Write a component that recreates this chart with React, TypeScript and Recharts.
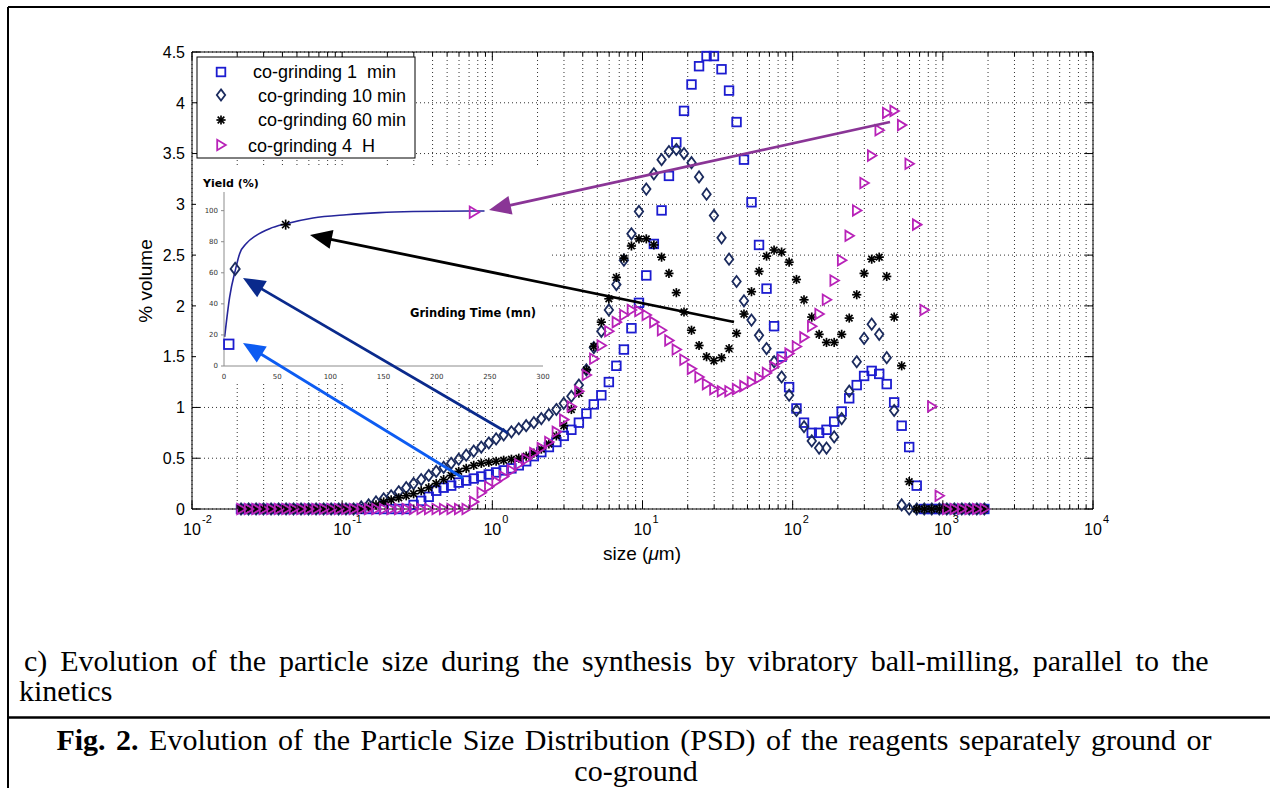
import React from "react";
import {
  ScatterChart,
  Scatter,
  XAxis,
  YAxis,
  CartesianGrid,
  ReferenceArea,
  ComposedChart,
  Line,
} from "recharts";

// size classes (µm), geometric centres of the laser-diffraction bins
const sizes = [
  0.0212, 0.0238, 0.0267, 0.0299, 0.0336, 0.0377, 0.0423, 0.0474, 0.0532, 0.0597,
  0.067, 0.0752, 0.0844, 0.0947, 0.106, 0.119, 0.134, 0.15, 0.168, 0.189,
  0.212, 0.238, 0.267, 0.299, 0.336, 0.377, 0.423, 0.474, 0.532, 0.597,
  0.67, 0.752, 0.844, 0.947, 1.06, 1.19, 1.34, 1.5, 1.68, 1.89,
  2.12, 2.38, 2.67, 2.99, 3.36, 3.77, 4.23, 4.74, 5.32, 5.97,
  6.7, 7.52, 8.44, 9.47, 10.6, 11.9, 13.4, 15.0, 16.8, 18.9,
  21.2, 23.8, 26.7, 29.9, 33.6, 37.7, 42.3, 47.4, 53.2, 59.7,
  67.0, 75.2, 84.4, 94.7, 106, 119, 134, 150, 168, 189,
  212, 238, 267, 299, 336, 377, 423, 474, 532, 597,
  670, 752, 844, 947, 1062, 1192, 1337, 1500, 1683, 1889,
];

// % volume per size class
const coGrind1min = [
  0, 0, 0, 0, 0, 0, 0, 0, 0, 0,
  0, 0, 0, 0, 0, 0, 0, 0, 0, 0,
  0, 0, 0, 0.04, 0.08, 0.12, 0.18, 0.21, 0.23, 0.26,
  0.28, 0.3, 0.32, 0.34, 0.36, 0.38, 0.4, 0.43, 0.47, 0.52,
  0.56, 0.61, 0.66, 0.72, 0.78, 0.85, 0.94, 1.03, 1.12, 1.25,
  1.41, 1.57, 1.78, 2.03, 2.3, 2.61, 2.94, 3.28, 3.61, 3.92,
  4.18, 4.36, 4.46, 4.46, 4.33, 4.12, 3.81, 3.44, 3.02, 2.6,
  2.17, 1.8, 1.5, 1.2, 0.99, 0.85, 0.75, 0.75, 0.78, 0.86,
  0.96, 1.09, 1.22, 1.31, 1.36, 1.33, 1.23, 1.05, 0.82, 0.61,
  0.23, 0, 0, 0, 0, 0, 0, 0, 0, 0,
];

const coGrind10min = [
  0, 0, 0, 0, 0, 0, 0, 0, 0, 0,
  0, 0, 0, 0, 0, 0, 0.02, 0.04, 0.07, 0.1,
  0.13, 0.17, 0.21, 0.25, 0.29, 0.33, 0.37, 0.41, 0.45, 0.49,
  0.53, 0.57, 0.61, 0.65, 0.69, 0.73, 0.76, 0.79, 0.82, 0.85,
  0.89, 0.93, 0.98, 1.04, 1.11, 1.22, 1.37, 1.59, 1.75, 1.96,
  2.21, 2.45, 2.71, 2.93, 3.15, 3.3, 3.44, 3.52, 3.54, 3.5,
  3.41, 3.27, 3.1, 2.89, 2.67, 2.46, 2.24, 2.05, 1.86, 1.71,
  1.58, 1.45, 1.3, 1.12, 0.97, 0.81, 0.67, 0.6, 0.6, 0.71,
  0.89, 1.16, 1.45, 1.68, 1.82, 1.72, 1.49, 0.97, 0.04, 0,
  0, 0, 0, 0, 0, 0, 0, 0, 0, 0,
];

const coGrind60min = [
  0, 0, 0, 0, 0, 0, 0, 0, 0, 0,
  0, 0, 0, 0, 0, 0, 0, 0.02, 0.04, 0.07,
  0.09, 0.11, 0.13, 0.15, 0.18, 0.21, 0.25, 0.29, 0.33, 0.37,
  0.4, 0.43, 0.45, 0.46, 0.47, 0.48, 0.49, 0.5, 0.52, 0.55,
  0.59, 0.64, 0.72, 0.82, 0.98, 1.14, 1.37, 1.6, 1.84, 2.07,
  2.28, 2.47, 2.59, 2.66, 2.66, 2.6, 2.48, 2.32, 2.13, 1.94,
  1.76, 1.61, 1.5, 1.46, 1.49, 1.58, 1.73, 1.92, 2.14, 2.34,
  2.49, 2.55, 2.53, 2.43, 2.26, 2.06, 1.89, 1.72, 1.64, 1.64,
  1.72, 1.88, 2.11, 2.32, 2.46, 2.48, 2.29, 1.89, 1.41, 0.27,
  0, 0, 0, 0, 0, 0, 0, 0, 0, 0,
];

const coGrind4h = [
  0, 0, 0, 0, 0, 0, 0, 0, 0, 0,
  0, 0, 0, 0, 0, 0, 0, 0, 0, 0,
  0, 0, 0, 0, 0, 0, 0, 0, 0, 0,
  0, 0.07, 0.16, 0.22, 0.27, 0.32, 0.38, 0.44, 0.49, 0.55,
  0.6, 0.66, 0.76, 0.88, 1.01, 1.16, 1.32, 1.48, 1.61, 1.75,
  1.84, 1.91, 1.96, 1.95, 1.91, 1.84, 1.76, 1.66, 1.57, 1.47,
  1.38, 1.3, 1.23, 1.18, 1.16, 1.16, 1.18, 1.21, 1.25, 1.29,
  1.34, 1.4, 1.47, 1.53, 1.6, 1.69, 1.8, 1.92, 2.06, 2.25,
  2.45, 2.69, 2.94, 3.21, 3.48, 3.73, 3.9, 3.92, 3.78, 3.4,
  2.8, 1.96, 1.01, 0.13, 0, 0, 0, 0, 0, 0,
];

const xMajor = [0.01, 0.1, 1, 10, 100, 1000, 10000];
const xMinorSteps = [2, 3, 4, 5, 6, 7, 8, 9];
const yTicks = [0, 0.5, 1, 1.5, 2, 2.5, 3, 3.5, 4, 4.5];

const legendLabels = [
  "co-grinding 1  min",
  "co-grinding 10 min",
  "co-grinding 60 min",
  "co-grinding 4  H",
];

// inset: reaction yield vs grinding time
const yieldTime = [0.6, 5.3, 11, 14.7, 21, 30.4, 42.9, 58.6, 83.7, 115, 146, 178, 231, 245];
const yieldPct = [18.7, 44.4, 62.7, 72.3, 78.8, 84.1, 88.4, 91.6, 95.3, 97.4, 98.7, 99.4, 99.8, 99.8];
const sampleTime = [4.5, 10.5, 58, 235];
const sampleYield = [14, 62.5, 91, 99];
const insetXTicks = [0, 50, 100, 150, 200, 250, 300];
const insetYTicks = [0, 20, 40, 60, 80, 100];

const BLUE = "#1c1cd0";
const NAVY = "#1b2b5e";
const MAGENTA = "#b822b8";
const SANS = "'Liberation Sans', Arial, sans-serif";
const SERIF = "'Liberation Serif', 'Times New Roman', serif";

const PLOT_TOP = 52;
const PLOT_RIGHT = 1093;

const kinds = ["square", "diamond", "star", "triangle"];
const seriesValues = [coGrind1min, coGrind10min, coGrind60min, coGrind4h];

const xTicks: number[] = [];
xMajor.forEach((d, i) => {
  xTicks.push(d);
  if (i < xMajor.length - 1) xMinorSteps.forEach((m) => xTicks.push(+(d * m).toPrecision(3)));
});

function Marker({ kind, cx, cy, k = 1 }: { kind: string; cx: number; cy: number; k?: number }) {
  if (kind === "square") {
    const h = 4.3 * k;
    return <rect x={cx - h} y={cy - h} width={2 * h} height={2 * h} fill="none" stroke={BLUE} strokeWidth={1.8} />;
  }
  if (kind === "diamond") {
    const w = 4.2 * k, h = 5.6 * k;
    return (
      <polygon
        points={`${cx},${cy - h} ${cx + w},${cy} ${cx},${cy + h} ${cx - w},${cy}`}
        fill="none"
        stroke={NAVY}
        strokeWidth={1.8}
      />
    );
  }
  if (kind === "star") {
    const r = 4.6 * k, d = 3.3 * k;
    return (
      <g stroke="#000" strokeWidth={1.7}>
        <line x1={cx - r} y1={cy} x2={cx + r} y2={cy} />
        <line x1={cx} y1={cy - r} x2={cx} y2={cy + r} />
        <line x1={cx - d} y1={cy - d} x2={cx + d} y2={cy + d} />
        <line x1={cx - d} y1={cy + d} x2={cx + d} y2={cy - d} />
      </g>
    );
  }
  return (
    <polygon
      points={`${cx + 4.8 * k},${cy} ${cx - 3.8 * k},${cy - 5.2 * k} ${cx - 3.8 * k},${cy + 5.2 * k}`}
      fill="none"
      stroke={MAGENTA}
      strokeWidth={1.8}
    />
  );
}

const renderXTick = (p: any) => {
  const { x, y, payload } = p;
  const lg = Math.log10(payload.value);
  const major = Math.abs(lg - Math.round(lg)) < 1e-6;
  const len = major ? 8 : 4;
  return (
    <g>
      <line x1={x} y1={y} x2={x} y2={y - len} stroke="#000" />
      <line x1={x} y1={PLOT_TOP} x2={x} y2={PLOT_TOP + len} stroke="#000" />
      {major && (
        <text fontFamily={SANS} fill="#000">
          <tspan x={x} y={y + 26} fontSize={16} textAnchor="middle">10</tspan>
          <tspan x={x + 10} y={y + 14} fontSize={11}>{Math.round(lg)}</tspan>
        </text>
      )}
    </g>
  );
};

const renderYTick = (p: any) => {
  const { x, y, payload } = p;
  return (
    <g>
      <line x1={x} y1={y} x2={x + 8} y2={y} stroke="#000" />
      <line x1={PLOT_RIGHT} y1={y} x2={PLOT_RIGHT - 8} y2={y} stroke="#000" />
      <text x={x - 7} y={y} dy="0.36em" textAnchor="end" fontSize={16} fontFamily={SANS} fill="#000">
        {String(payload.value)}
      </text>
    </g>
  );
};

const arrows = [
  { x1: 890, y1: 122, x2: 489, y2: 210, color: "#8a3596" },
  { x1: 734, y1: 322, x2: 310, y2: 235, color: "#000000" },
  { x1: 508, y1: 433, x2: 243, y2: 278, color: "#0a2a8c" },
  { x1: 463, y1: 478, x2: 243, y2: 343, color: "#0d5cf2" },
];

function Arrow({ x1, y1, x2, y2, color }: { x1: number; y1: number; x2: number; y2: number; color: string }) {
  const dx = x2 - x1, dy = y2 - y1;
  const L = Math.hypot(dx, dy);
  const ux = dx / L, uy = dy / L;
  const hl = 22, hw = 9.5;
  const bx = x2 - ux * hl, by = y2 - uy * hl;
  return (
    <g>
      <line x1={x1} y1={y1} x2={bx + ux * 2} y2={by + uy * 2} stroke={color} strokeWidth={2.8} />
      <polygon
        points={`${x2},${y2} ${bx - uy * hw},${by + ux * hw} ${bx + uy * hw},${by - ux * hw}`}
        fill={color}
      />
    </g>
  );
}

export default function App() {
  const series = seriesValues.map((vals, si) => ({
    kind: kinds[si],
    data: sizes.map((s, i) => ({ x: s, y: vals[i] })),
  }));
  const yieldData = yieldTime.map((t, i) => ({ t, v: yieldPct[i] }));

  const legendRows = [
    { x: 253, base: 78, cy: 72 },
    { x: 258, base: 102, cy: 95 },
    { x: 258, base: 126, cy: 120 },
    { x: 248, base: 152, cy: 145 },
  ];

  return (
    <div style={{ position: "relative", width: 1270, height: 788, background: "#fff", overflow: "hidden" }}>
      <style>{"body{margin:0}"}</style>

      <div style={{ position: "absolute", left: 0, top: 0 }}>
        <ScatterChart width={1270} height={600} margin={{ top: PLOT_TOP, right: 177, bottom: 41, left: 132 }}>
          <CartesianGrid stroke="#333" strokeDasharray="1 3" />
          <XAxis
            type="number"
            dataKey="x"
            scale="log"
            domain={[0.01, 10000]}
            ticks={xTicks}
            interval={0}
            tickSize={0}
            tickMargin={0}
            tickLine={false}
            axisLine={false}
            height={50}
            tick={renderXTick}
          />
          <YAxis
            type="number"
            dataKey="y"
            domain={[0, 4.5]}
            ticks={yTicks}
            interval={0}
            tickSize={0}
            tickMargin={0}
            tickLine={false}
            axisLine={false}
            width={60}
            tick={renderYTick}
          />
          <ReferenceArea x1={0.01} x2={10000} y1={0} y2={4.5} fill="none" stroke="#000" strokeWidth={1} />
          {series.map((s) => (
            <Scatter
              key={s.kind}
              data={s.data}
              isAnimationActive={false}
              shape={(p: any) => <Marker kind={s.kind} cx={p.cx} cy={p.cy} />}
            />
          ))}
        </ScatterChart>
      </div>

      {/* inset: yield kinetics */}
      <div style={{ position: "absolute", left: 196, top: 165, width: 356, height: 218, background: "#fff" }}>
        <ComposedChart width={356} height={218} margin={{ top: 27, right: 9, bottom: 3, left: 0 }}>
          <XAxis
            type="number"
            dataKey="t"
            domain={[0, 300]}
            ticks={insetXTicks}
            interval={0}
            height={14}
            tickLine={false}
            tickMargin={2}
            axisLine={{ stroke: "#8c8c8c" }}
            tick={{ fontSize: 7, fill: "#333", fontFamily: "'DejaVu Sans', sans-serif" }}
          />
          <YAxis
            type="number"
            dataKey="v"
            domain={[0, 112]}
            ticks={insetYTicks}
            interval={0}
            width={28}
            tickSize={3}
            tickMargin={3}
            tickLine={{ stroke: "#8c8c8c" }}
            axisLine={{ stroke: "#8c8c8c" }}
            tick={{ fontSize: 7, fill: "#333", fontFamily: "'DejaVu Sans', sans-serif" }}
          />
          <Line
            data={yieldData}
            dataKey="v"
            type="monotone"
            stroke="#25259a"
            strokeWidth={1.6}
            dot={false}
            isAnimationActive={false}
          />
          {sampleTime.map((t, i) => (
            <Scatter
              key={kinds[i]}
              data={[{ t, v: sampleYield[i] }]}
              dataKey="v"
              isAnimationActive={false}
              shape={(p: any) => <Marker kind={kinds[i]} cx={p.cx} cy={p.cy} k={1.1} />}
            />
          ))}
        </ComposedChart>
      </div>

      <svg
        width={1270}
        height={788}
        style={{ position: "absolute", left: 0, top: 0, pointerEvents: "none" }}
      >
        {/* frame of the figure */}
        <line x1={8} y1={7} x2={1270} y2={7} stroke="#000" strokeWidth={2} />
        <line x1={8} y1={7} x2={8} y2={788} stroke="#000" strokeWidth={2} />
        <line x1={8} y1={717.5} x2={1270} y2={717.5} stroke="#000" strokeWidth={2.5} />

        {/* legend */}
        <rect x={197} y={57} width={218} height={101} fill="#fff" stroke="#000" strokeWidth={1} />
        {legendRows.map((r, i) => (
          <g key={i}>
            <Marker kind={kinds[i]} cx={221} cy={r.cy} />
            <text x={r.x} y={r.base} fontSize={18} fontFamily={SANS} fill="#000" style={{ whiteSpace: "pre" }}>
              {legendLabels[i]}
            </text>
          </g>
        ))}

        {/* axis titles */}
        <text
          x={0}
          y={0}
          transform="translate(152,281) rotate(-90)"
          textAnchor="middle"
          fontSize={19}
          fontFamily={SANS}
          fill="#000"
        >
          % volume
        </text>
        <text x={642} y={560} textAnchor="middle" fontSize={19} fontFamily={SANS} fill="#000">
          size (<tspan fontStyle="italic">μ</tspan>m)
        </text>

        {/* inset titles */}
        <text x={203} y={187} fontSize={11} fontWeight="bold" fontFamily="'DejaVu Sans', sans-serif" fill="#000">
          Yield (%)
        </text>
        <text x={410} y={317} fontSize={11.5} fontWeight="bold" fontFamily="'DejaVu Sans', sans-serif" fill="#000">
          Grinding Time (mn)
        </text>

        {arrows.map((a, i) => (
          <Arrow key={i} {...a} />
        ))}

        {/* captions (justified first line) */}
        <text x={24} y={671} fontSize={30} wordSpacing={5.4} fontFamily={SERIF} fill="#000">
          c) Evolution of the particle size during the synthesis by vibratory ball-milling, parallel to the
        </text>
        <text x={19} y={701} fontSize={30} fontFamily={SERIF} fill="#000">
          kinetics
        </text>
        <text x={634} y={750} textAnchor="middle" fontSize={30} wordSpacing={3} fontFamily={SERIF} fill="#000">
          <tspan fontWeight="bold">Fig. 2.</tspan> Evolution of the Particle Size Distribution (PSD) of the reagents
          separately ground or
        </text>
        <text x={636} y={781} textAnchor="middle" fontSize={30} fontFamily={SERIF} fill="#000">
          co-ground
        </text>
      </svg>
    </div>
  );
}
